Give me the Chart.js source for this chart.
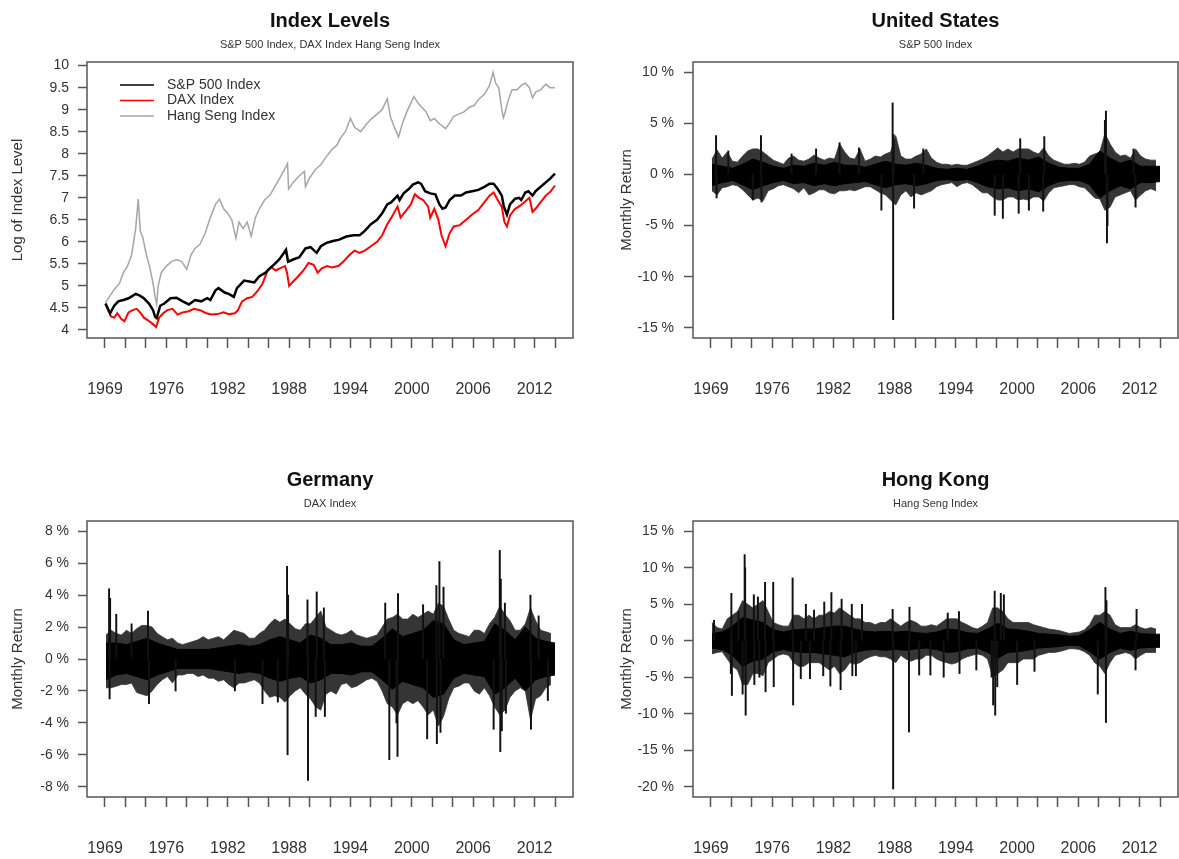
<!DOCTYPE html>
<html>
<head>
<meta charset="utf-8">
<title>Index Levels and Returns</title>
<script src="https://cdn.jsdelivr.net/npm/chart.js@4.4.1/dist/chart.umd.min.js"></script>
<style>
  html, body { margin: 0; padding: 0; background: #fff; }
  #page { position: relative; width: 1179px; height: 859px; overflow: hidden; background: #fff; }
  canvas { position: absolute; }
  #levelsChart { left: 0; top: 0; }
  #usChart { left: 590px; top: 0; }
  #deChart { left: 0; top: 459px; }
  #hkChart { left: 590px; top: 459px; }
</style>
</head>
<body>
<div id="page">
  <canvas id="levelsChart" width="590" height="400"></canvas>
  <canvas id="usChart" width="589" height="400"></canvas>
  <canvas id="deChart" width="590" height="400"></canvas>
  <canvas id="hkChart" width="589" height="400"></canvas>
</div>
<script>
const FONT = "'Liberation Sans', Arial, sans-serif";

// X axis: tick positions (decimal years) and their labels
const xTickYears = [1969.9, 1971.9, 1973.9, 1975.9, 1977.9, 1979.9, 1981.9, 1983.9, 1985.9, 1987.9, 1989.9, 1991.9,
                    1993.9, 1995.9, 1997.9, 1999.9, 2001.9, 2003.9, 2005.9, 2007.9, 2009.9, 2011.9, 2013.9];
const xTickLabels = ['1969', '', '', '1976', '', '', '1982', '', '', '1988', '', '', '1994', '', '', '2000', '', '',
                     '2006', '', '', '2012', ''];
const xRange = [1968.14, 2015.66];

// Log index levels
const spYears = [1969.95, 1970.4, 1970.8, 1971.2, 1971.7, 1972.2, 1972.9, 1973.3, 1973.7, 1974.2, 1974.6, 1974.8, 1974.95,
  1975.3, 1975.7, 1976.3, 1976.9, 1977.5, 1978.1, 1978.7, 1979.3, 1979.9, 1980.2, 1980.7, 1981.0, 1981.6, 1982.0, 1982.5,
  1982.8, 1983.5, 1984.0, 1984.5, 1985.0, 1985.6, 1986.0, 1986.5, 1987.0, 1987.6, 1987.8, 1988.3, 1988.9, 1989.5, 1990.0,
  1990.6, 1991.0, 1991.6, 1992.2, 1992.8, 1993.5, 1994.2, 1994.8, 1995.3, 1995.9, 1996.5, 1997.0, 1997.5, 1997.9, 1998.5,
  1998.7, 1999.1, 1999.6, 2000.0, 2000.5, 2000.8, 2001.2, 2001.7, 2002.2, 2002.6, 2002.9, 2003.2, 2003.6, 2004.1, 2004.7,
  2005.2, 2005.8, 2006.4, 2007.0, 2007.5, 2007.9, 2008.3, 2008.7, 2008.9, 2009.2, 2009.5, 2010.0, 2010.4, 2010.6, 2011.0,
  2011.3, 2011.7, 2012.0, 2012.5, 2013.0, 2013.5, 2013.9];
const spLog = [4.6, 4.38, 4.55, 4.65, 4.68, 4.72, 4.82, 4.78, 4.72, 4.6, 4.45, 4.3, 4.27,
  4.55, 4.6, 4.72, 4.73, 4.65, 4.58, 4.68, 4.65, 4.72, 4.68, 4.9, 4.95, 4.85, 4.82, 4.75,
  4.95, 5.12, 5.1, 5.08, 5.22, 5.3, 5.4, 5.5, 5.62, 5.82, 5.55, 5.6, 5.65, 5.85, 5.88,
  5.75, 5.9, 5.98, 6.02, 6.05, 6.12, 6.15, 6.15, 6.25, 6.4, 6.5, 6.65, 6.85, 6.9, 7.05,
  6.95, 7.1, 7.2, 7.3, 7.35, 7.32, 7.15, 7.1, 7.08, 6.85, 6.75, 6.78, 6.95, 7.05, 7.05,
  7.12, 7.15, 7.18, 7.25, 7.32, 7.32, 7.2, 7.05, 6.8, 6.62, 6.85, 6.98, 7.0, 6.95, 7.12,
  7.15, 7.05, 7.15, 7.25, 7.35, 7.45, 7.55];

const daxYears = [1969.95, 1970.2, 1970.5, 1970.8, 1971.1, 1971.5, 1971.8, 1972.2, 1972.6, 1973.0, 1973.4, 1973.7, 1974.1,
  1974.5, 1974.9, 1975.2, 1975.6, 1976.0, 1976.5, 1977.0, 1977.5, 1978.0, 1978.6, 1979.2, 1979.8, 1980.3, 1980.9, 1981.5,
  1982.0, 1982.6, 1982.9, 1983.3, 1983.8, 1984.3, 1984.8, 1985.3, 1985.8, 1986.2, 1986.6, 1987.0, 1987.5, 1987.7, 1987.9,
  1988.3, 1988.8, 1989.3, 1989.8, 1990.3, 1990.7, 1991.1, 1991.6, 1992.1, 1992.7, 1993.2, 1993.8, 1994.3, 1994.8, 1995.3,
  1995.9, 1996.5, 1997.0, 1997.5, 1997.9, 1998.5, 1998.8, 1999.3, 1999.8, 2000.2, 2000.6, 2001.0, 2001.5, 2001.7, 2002.1,
  2002.5, 2002.8, 2003.2, 2003.6, 2004.0, 2004.6, 2005.2, 2005.8, 2006.4, 2007.0, 2007.5, 2007.9, 2008.3, 2008.7, 2008.95,
  2009.2, 2009.5, 2010.0, 2010.5, 2011.0, 2011.4, 2011.7, 2012.0, 2012.5, 2013.0, 2013.5, 2013.9];
const daxLog = [4.6, 4.45, 4.3, 4.28, 4.38, 4.25, 4.2, 4.4, 4.45, 4.48, 4.38, 4.28, 4.22,
  4.15, 4.07, 4.28, 4.38, 4.45, 4.48, 4.35, 4.4, 4.42, 4.48, 4.45, 4.38, 4.35, 4.36, 4.4,
  4.36, 4.38, 4.45, 4.65, 4.72, 4.75, 4.88, 5.05, 5.35, 5.42, 5.35, 5.4, 5.45, 5.3, 5.0,
  5.1, 5.22, 5.35, 5.52, 5.48, 5.3, 5.4, 5.45, 5.42, 5.45, 5.55, 5.7, 5.8, 5.75, 5.8,
  5.9, 6.0, 6.15, 6.4, 6.55, 6.8, 6.55, 6.7, 6.85, 7.08, 7.0, 6.95, 6.8, 6.55, 6.75,
  6.5, 6.15, 5.9, 6.2, 6.35, 6.38, 6.5, 6.62, 6.72, 6.9, 7.05, 7.12, 6.95, 6.8, 6.45,
  6.35, 6.6, 6.75, 6.82, 6.92, 7.0, 6.68, 6.75, 6.9, 7.05, 7.15, 7.28];

const hsYears = [1969.95, 1970.4, 1970.8, 1971.3, 1971.7, 1972.1, 1972.5, 1972.9, 1973.15, 1973.35, 1973.6, 1973.9, 1974.3,
  1974.6, 1974.8, 1974.95, 1975.1, 1975.4, 1975.9, 1976.4, 1976.9, 1977.4, 1977.9, 1978.3, 1978.7, 1979.2, 1979.7, 1980.2,
  1980.7, 1981.1, 1981.5, 1981.9, 1982.3, 1982.7, 1983.0, 1983.4, 1983.8, 1984.2, 1984.6, 1985.0, 1985.5, 1986.0, 1986.5,
  1987.0, 1987.4, 1987.75, 1987.85, 1988.3, 1988.9, 1989.4, 1989.5, 1989.9, 1990.5, 1991.0, 1991.6, 1992.1, 1992.6, 1992.9,
  1993.4, 1993.9, 1994.3, 1994.9, 1995.4, 1995.9, 1996.5, 1997.0, 1997.5, 1997.8, 1998.1, 1998.6, 1999.0, 1999.4, 1999.8,
  2000.1, 2000.5, 2000.9, 2001.3, 2001.7, 2002.1, 2002.6, 2003.2, 2003.6, 2004.0, 2004.5, 2005.0, 2005.5, 2006.0, 2006.5,
  2007.0, 2007.5, 2007.85, 2008.1, 2008.4, 2008.7, 2008.85, 2009.0, 2009.3, 2009.7, 2010.2, 2010.6, 2011.0, 2011.4, 2011.7,
  2012.0, 2012.5, 2013.0, 2013.4, 2013.9];
const hsLog = [4.62, 4.78, 4.92, 5.05, 5.3, 5.45, 5.7, 6.3, 6.97, 6.25, 6.1, 5.75, 5.4,
  5.05, 4.75, 4.58, 5.0, 5.3, 5.45, 5.55, 5.6, 5.55, 5.38, 5.7, 5.85, 5.95, 6.2, 6.55,
  6.85, 6.97, 6.75, 6.65, 6.5, 6.08, 6.45, 6.3, 6.45, 6.13, 6.55, 6.75, 6.95, 7.05, 7.25,
  7.45, 7.62, 7.78, 7.2, 7.35, 7.5, 7.6, 7.25, 7.45, 7.65, 7.75, 7.95, 8.1, 8.2, 8.35,
  8.5, 8.8, 8.6, 8.5, 8.65, 8.78, 8.9, 9.0, 9.25, 8.85, 8.65, 8.38, 8.7, 8.95, 9.15,
  9.3, 9.15, 9.05, 8.95, 8.75, 8.8, 8.68, 8.57, 8.7, 8.85, 8.9, 8.95, 9.05, 9.1, 9.25,
  9.35, 9.55, 9.85, 9.6, 9.5, 9.0, 8.82, 8.92, 9.2, 9.45, 9.45, 9.55, 9.6, 9.5, 9.27,
  9.4, 9.45, 9.58, 9.5, 9.5];
const levelTicks = [4, 4.5, 5, 5.5, 6, 6.5, 7, 7.5, 8, 8.5, 9, 9.5, 10];

// Returns (%): dense core band per year, outer extent per half year, single large spikes
const bandYears = [1970, 1971, 1972, 1973, 1974, 1975, 1976, 1977, 1978, 1979, 1980, 1981, 1982, 1983, 1984, 1985, 1986,
  1987, 1988, 1989, 1990, 1991, 1992, 1993, 1994, 1995, 1996, 1997, 1998, 1999, 2000, 2001, 2002, 2003, 2004, 2005, 2006,
  2007, 2008, 2009, 2010, 2011, 2012, 2013, 2013.9];
const halfYears = Array.from({ length: 88 }, (_, i) => 1970 + i / 2);

const usCoreHi = [1.0, 0.8, 0.6, 1.0, 1.5, 1.2, 0.8, 0.6, 0.9, 0.8, 1.1, 0.9, 1.2, 0.9, 0.9, 0.7, 1.0, 1.3, 1.0, 0.9,
  1.1, 0.9, 0.6, 0.5, 0.6, 0.5, 0.8, 1.2, 1.4, 1.3, 1.6, 1.4, 1.7, 1.1, 0.7, 0.6, 0.6, 1.0, 2.3, 1.6, 1.1, 1.4, 0.8, 0.8, 0.8];
const usCoreLo = [-1.1, -0.8, -0.6, -1.0, -1.5, -1.1, -0.8, -0.6, -0.9, -0.8, -1.1, -0.9, -1.1, -0.9, -0.8, -0.7, -1.0, -1.3,
  -1.0, -0.9, -1.1, -0.9, -0.6, -0.5, -0.6, -0.5, -0.8, -1.2, -1.4, -1.3, -1.6, -1.4, -1.7, -1.1, -0.7, -0.6, -0.6, -1.0,
  -2.3, -1.6, -1.1, -1.4, -0.8, -0.8, -0.7];
const usOuterHi = [1.5, 2.4, 1.6, 2.2, 1.3, 1.2, 1.8, 2.3, 2.5, 2.5, 2.2, 1.8, 1.4, 1.2, 1.0, 1.6, 1.8, 1.4, 1.3, 1.5,
  1.9, 1.6, 1.4, 1.6, 1.5, 3.0, 2.2, 1.6, 1.5, 2.5, 1.3, 1.5, 1.8, 1.7, 2.0, 2.2, 3.8, 1.8, 1.5, 1.5,
  1.8, 2.0, 2.5, 1.6, 1.2, 1.0, 1.0, 0.9, 1.0, 0.9, 0.9, 1.1, 1.3, 1.5, 1.8, 2.2, 2.6, 2.2, 2.5, 2.2,
  2.5, 2.5, 2.5, 2.2, 2.0, 2.6, 1.8, 1.4, 1.2, 1.0, 1.0, 1.1, 1.0, 1.2, 1.8, 2.0, 2.2, 4.0, 3.0, 2.2,
  1.8, 1.9, 1.6, 2.5, 1.8, 1.5, 1.4, 1.4];
const usOuterLo = [-1.6, -2.0, -1.3, -1.2, -1.0, -1.1, -1.5, -2.0, -2.5, -2.3, -2.6, -1.6, -1.4, -1.1, -1.0, -1.2, -1.4, -1.8, -1.3, -2.0,
  -1.8, -1.5, -1.5, -1.8, -1.9, -1.6, -1.6, -1.5, -1.6, -1.4, -1.2, -1.2, -1.5, -1.8, -2.0, -2.5, -3.0, -2.0, -1.6, -2.2,
  -1.8, -2.0, -1.8, -1.6, -1.2, -1.0, -0.9, -0.8, -1.2, -0.9, -0.8, -1.0, -1.4, -1.8, -1.8, -2.2, -2.5, -2.5, -2.2, -2.2,
  -2.5, -2.4, -2.5, -2.2, -2.2, -2.6, -1.8, -1.3, -1.2, -1.1, -1.0, -1.0, -1.2, -1.3, -1.8, -2.3, -2.4, -3.5, -3.2, -2.2,
  -2.0, -1.8, -1.6, -2.5, -2.0, -1.6, -1.4, -1.6];
const usSpikes = [[1970.4, 3.8], [1970.45, -2.3], [1971.6, 2.3], [1974.0, -2.5], [1974.8, 3.8], [1974.85, -2.7], [1977.8, 2.0],
  [1980.2, 2.5], [1982.5, 3.1], [1984.4, 2.6], [1986.6, -3.5], [1987.7, 7.0], [1987.75, -14.2], [1987.8, 3.9], [1989.8, -3.3],
  [1990.7, 2.5], [1997.7, -4.0], [1998.5, -4.3], [2000.05, -3.8], [2000.2, 3.5], [2001.05, -3.5], [2002.45, -3.6],
  [2002.56, 3.7], [2008.5, 5.3], [2008.6, 6.2], [2008.7, -6.7], [2008.75, -5.0], [2011.3, 2.5], [2011.5, -3.2]];
const usTicks = [-15, -10, -5, 0, 5, 10];

const deCoreHi = [1.0, 1.0, 0.9, 1.1, 1.3, 1.0, 0.8, 0.6, 0.6, 0.6, 0.6, 0.7, 0.8, 0.9, 0.8, 0.9, 1.2, 1.4, 1.2, 1.0,
  1.5, 1.3, 0.9, 0.9, 1.0, 0.8, 0.8, 1.3, 1.9, 1.4, 1.6, 1.8, 2.4, 2.2, 1.2, 0.9, 1.0, 1.1, 2.2, 1.8, 1.2, 2.0, 1.3, 1.1, 1.0];
const deCoreLo = [-1.3, -1.0, -0.9, -1.1, -1.3, -1.0, -0.8, -0.6, -0.6, -0.6, -0.6, -0.7, -0.8, -0.9, -0.8, -0.9, -1.2, -1.4,
  -1.2, -1.1, -1.5, -1.3, -0.9, -0.9, -1.0, -0.8, -0.8, -1.3, -1.9, -1.4, -1.6, -1.8, -2.4, -2.2, -1.2, -0.9, -1.0, -1.1,
  -2.2, -1.8, -1.2, -2.0, -1.3, -1.1, -1.0];
const deOuterHi = [1.5, 1.8, 1.6, 1.5, 1.8, 1.6, 1.9, 2.1, 2.1, 2.0, 1.6, 1.4, 1.2, 1.3, 1.0, 0.9, 1.0, 1.1, 1.2, 1.4,
  1.2, 1.3, 1.4, 1.2, 1.5, 1.8, 1.7, 1.6, 1.3, 1.3, 1.6, 1.8, 2.2, 2.5, 2.3, 2.5, 2.2, 1.9, 1.8, 2.2,
  2.2, 2.6, 3.0, 2.0, 1.8, 1.6, 1.5, 1.6, 1.8, 1.5, 1.4, 1.3, 1.4, 1.5, 2.0, 2.5, 2.6, 2.8, 2.5, 2.5,
  2.8, 2.6, 2.8, 3.0, 2.8, 3.5, 3.3, 2.5, 1.8, 1.6, 1.5, 1.4, 1.8, 1.8, 1.6, 2.2, 2.6, 3.3, 2.8, 2.4,
  1.8, 1.8, 2.2, 3.2, 2.4, 1.8, 1.7, 1.6];
const deOuterLo = [-1.8, -1.8, -1.7, -1.6, -1.6, -1.5, -2.1, -2.2, -2.3, -2.0, -1.6, -1.3, -1.1, -1.5, -1.0, -1.0, -0.9, -0.9, -1.1, -1.0,
  -1.2, -1.2, -1.4, -1.3, -1.6, -1.8, -1.5, -1.5, -1.4, -1.3, -1.5, -2.0, -2.4, -2.3, -2.4, -2.7, -2.3, -2.0, -1.8, -2.2,
  -2.5, -3.0, -3.2, -2.2, -2.0, -2.2, -1.6, -1.5, -1.8, -1.7, -1.5, -1.3, -1.2, -1.4, -2.0, -2.8, -3.0, -3.5, -2.8, -2.6,
  -2.8, -2.6, -3.0, -3.5, -3.2, -4.2, -3.6, -2.5, -1.8, -1.7, -1.5, -1.5, -2.0, -2.2, -1.8, -2.3, -3.0, -3.5, -3.2, -2.4,
  -2.0, -1.8, -2.0, -3.8, -2.5, -2.3, -1.8, -1.6];
const deSpikes = [[1970.3, 4.4], [1970.4, 3.8], [1970.35, -2.5], [1971.0, 2.8], [1972.5, 2.2], [1974.1, 3.0], [1974.2, -2.8],
  [1976.8, -2.0], [1982.6, -2.0], [1985.3, -2.8], [1986.8, -2.7], [1987.7, 5.8], [1987.75, -6.0], [1987.8, 4.0],
  [1989.75, -7.6], [1989.7, 3.7], [1990.5, -3.6], [1990.6, 4.2], [1991.3, 3.2], [1991.4, -3.6], [1997.3, 3.5], [1997.7, -6.3],
  [1998.4, -4.0], [1998.5, -6.1], [1998.55, 4.1], [2001.0, 3.4], [2001.4, -5.0], [2002.3, 4.6], [2002.35, -5.3],
  [2002.6, 6.1], [2002.7, -4.6], [2003.0, 4.5], [2007.9, -4.4], [2008.5, 6.8], [2008.55, -5.8], [2008.6, 5.0],
  [2008.7, -4.5], [2009.0, 3.5], [2009.1, -3.4], [2011.5, 4.0], [2011.55, -4.4], [2012.3, 2.7], [2013.2, -2.6]];
const deTicks = [-8, -6, -4, -2, 0, 2, 4, 6, 8];

const hkCoreHi = [1.0, 1.2, 2.0, 3.2, 2.8, 2.5, 1.5, 1.2, 1.5, 1.6, 1.6, 1.8, 2.0, 2.0, 1.6, 1.3, 1.2, 1.3, 1.2, 1.3,
  1.1, 1.0, 1.2, 1.6, 1.5, 1.1, 1.0, 1.6, 2.4, 1.6, 1.5, 1.3, 1.0, 0.9, 0.8, 0.6, 0.7, 1.5, 2.5, 1.6, 1.0, 1.3, 1.0, 0.9, 0.9];
const hkCoreLo = [-1.0, -1.2, -2.0, -3.5, -2.8, -2.5, -1.5, -1.2, -1.5, -1.6, -1.6, -1.8, -2.0, -2.2, -1.6, -1.3, -1.2, -1.3,
  -1.2, -1.3, -1.1, -1.0, -1.2, -1.6, -1.5, -1.1, -1.0, -1.6, -2.4, -1.6, -1.5, -1.3, -1.0, -0.9, -0.8, -0.6, -0.7, -1.5,
  -2.5, -1.6, -1.0, -1.3, -1.0, -0.9, -0.9];
const hkOuterHi = [2.5, 1.8, 1.6, 3.0, 3.5, 4.0, 5.5, 5.0, 4.5, 5.0, 5.5, 4.0, 2.5, 2.2, 2.0, 2.0, 3.5, 3.5, 3.0, 3.5,
  3.0, 3.5, 3.5, 4.0, 3.8, 4.5, 4.0, 3.5, 3.0, 3.0, 2.5, 2.5, 2.2, 2.5, 2.5, 3.0, 2.5, 2.0, 2.5, 2.8,
  2.5, 2.0, 2.0, 2.2, 2.0, 2.5, 3.0, 3.0, 3.0, 2.5, 2.2, 1.8, 1.6, 2.0, 2.5, 4.5, 4.5, 4.0, 3.0, 2.5,
  2.5, 2.5, 2.5, 2.2, 2.0, 1.8, 1.6, 1.5, 1.4, 1.2, 1.0, 1.1, 1.2, 1.5, 2.2, 3.5, 3.5, 4.0, 3.5, 2.2,
  1.8, 1.8, 1.8, 2.2, 1.8, 1.6, 1.8, 1.6];
const hkOuterLo = [-1.8, -1.6, -1.5, -2.5, -3.5, -4.0, -6.0, -6.0, -4.5, -4.5, -4.8, -3.0, -2.5, -2.0, -1.8, -2.0, -3.0, -3.5, -3.5, -3.0,
  -3.0, -3.0, -3.5, -4.0, -3.5, -4.5, -4.0, -3.0, -3.2, -3.0, -2.5, -2.2, -2.0, -2.2, -2.2, -2.5, -3.0, -2.0, -2.5, -2.8,
  -2.5, -2.5, -2.0, -2.0, -2.5, -2.8, -3.0, -3.2, -3.0, -2.5, -2.2, -2.0, -1.8, -2.0, -2.5, -5.0, -4.5, -4.0, -3.0, -3.0,
  -3.0, -2.5, -2.5, -2.5, -2.0, -1.8, -1.6, -1.6, -1.5, -1.3, -1.1, -1.1, -1.2, -1.5, -2.0, -3.0, -3.5, -4.5, -3.0, -2.0,
  -1.8, -1.6, -1.8, -2.5, -2.0, -1.6, -1.6, -1.6];
const hkSpikes = [[1970.2, 2.8], [1971.9, 6.5], [1971.95, -7.5], [1971.85, -4.5], [1972.6, 4.0], [1973.0, -7.3], [1973.2, 11.8],
  [1973.25, 10.0], [1973.3, -10.2], [1974.1, 6.3], [1974.15, -6.0], [1974.5, 6.0], [1974.65, -5.0], [1975.2, 8.0],
  [1975.25, -7.0], [1976.0, 8.0], [1976.05, -6.3], [1977.9, 8.6], [1977.95, -8.8], [1978.7, -5.2], [1979.2, 5.0],
  [1979.6, -5.2], [1980.0, 4.2], [1980.9, -4.8], [1981.0, 5.3], [1981.6, -6.2], [1981.7, 6.6], [1982.6, -6.7], [1982.7, 5.7],
  [1983.7, 5.0], [1983.75, -4.8], [1984.1, -4.8], [1984.7, 5.0], [1987.7, 4.3], [1987.75, -20.3], [1989.3, -12.5],
  [1989.35, 4.6], [1990.3, -4.7], [1991.4, -4.7], [1992.7, -5.0], [1993.1, 3.8], [1994.2, 4.0], [1994.25, -4.5],
  [1995.9, -4.0], [1997.4, -5.0], [1997.55, -8.8], [1997.7, 6.8], [1997.75, -10.2], [1997.95, -6.3], [1998.3, 6.5],
  [1998.6, 6.3], [1999.9, -6.0], [2001.6, -4.2], [2007.8, -7.3], [2008.55, 7.3], [2008.6, -11.2], [2008.65, 5.5],
  [2011.5, -4.0], [2011.6, 4.3]];
const hkTicks = [-20, -15, -10, -5, 0, 5, 10, 15];

// Box around the plot region plus main title and subtitle, centred on the box
const panelFrame = {
    id: 'panelFrame',
    afterDraw(chart, args, opts) {
        const { ctx, chartArea: a } = chart;
        ctx.save();
        ctx.strokeStyle = '#555';
        ctx.lineWidth = 1.5;
        ctx.strokeRect(a.left, a.top, a.right - a.left, a.bottom - a.top);
        const cx = (a.left + a.right) / 2;
        ctx.textAlign = 'center';
        ctx.textBaseline = 'middle';
        ctx.fillStyle = '#111';
        ctx.font = 'bold 20px ' + FONT;
        ctx.fillText(opts.main, cx, 21);
        ctx.fillStyle = '#333';
        ctx.font = '11px ' + FONT;
        ctx.fillText(opts.sub, cx, 45);
        ctx.restore();
    }
};

// Legend drawn inside the top-left corner of the levels plot
const levelsLegend = {
    id: 'levelsLegend',
    afterDraw(chart) {
        const { ctx, chartArea: a } = chart;
        ctx.save();
        ctx.font = '14px ' + FONT;
        ctx.textBaseline = 'middle';
        chart.data.datasets.slice().reverse().forEach((ds, i) => {
            const y = a.top + 23 + i * 15.5;
            ctx.strokeStyle = ds.borderColor;
            ctx.lineWidth = 1.5;
            ctx.beginPath();
            ctx.moveTo(a.left + 33, y);
            ctx.lineTo(a.left + 67, y);
            ctx.stroke();
            ctx.fillStyle = '#333';
            ctx.fillText(ds.label, a.left + 80, y);
        });
        ctx.restore();
    }
};

function panelOptions(cfg) {
    return {
        responsive: false,
        animation: false,
        devicePixelRatio: 1,
        layout: { padding: { top: 62, right: cfg.padRight, left: 0, bottom: 0 } },
        plugins: {
            legend: { display: false },
            tooltip: { enabled: false },
            panelFrame: { main: cfg.main, sub: cfg.sub }
        },
        scales: {
            x: {
                type: 'linear',
                min: xRange[0],
                max: xRange[1],
                offset: false,
                border: { display: false },
                grid: { offset: false, drawOnChartArea: false, tickLength: 10, tickColor: '#555', tickWidth: 1.5 },
                ticks: {
                    // tall line height pushes the year labels well below the tick marks
                    autoSkip: false, maxRotation: 0, padding: 10, color: '#333',
                    font: { family: FONT, size: 16, lineHeight: 4 },
                    callback: (v, i) => xTickLabels[i]
                },
                afterBuildTicks: s => { s.ticks = xTickYears.map(v => ({ value: v })); },
                afterFit: s => { s.height = 62; }
            },
            y: {
                type: 'linear',
                min: cfg.yRange[0],
                max: cfg.yRange[1],
                border: { display: false },
                grid: { drawOnChartArea: false, tickLength: 9, tickColor: '#555', tickWidth: 1.5 },
                ticks: {
                    padding: cfg.tickPad, color: '#333',
                    font: { family: FONT, size: 14 },
                    callback: cfg.fmt
                },
                afterBuildTicks: s => { s.ticks = cfg.yTicks.map(v => ({ value: v })); },
                afterFit: s => { s.width = cfg.axisWidth; },
                title: {
                    display: true, text: cfg.yTitle, color: '#333',
                    font: { family: FONT, size: 15 },
                    padding: { top: cfg.titlePad, bottom: 0 }
                }
            }
        }
    };
}

function xy(xs, ys) {
    return xs.map((x, i) => ({ x: x, y: ys[i] }));
}

// Lower 'order' is drawn later, so the spikes end up on top of the outer envelope
function returnDatasets(coreHi, coreLo, outerHi, outerLo, spikes) {
    return [
        {
            type: 'line', order: 5, data: xy(halfYears, outerHi), borderColor: '#333', borderWidth: 0.8,
            backgroundColor: '#353535', fill: '+1', pointRadius: 0, tension: 0
        },
        {
            type: 'line', order: 4, data: xy(halfYears, outerLo), borderColor: '#333', borderWidth: 0.8,
            fill: false, pointRadius: 0, tension: 0
        },
        {
            type: 'line', order: 3, data: xy(bandYears, coreHi), borderColor: '#000', borderWidth: 1,
            backgroundColor: '#000', fill: '+1', pointRadius: 0, tension: 0
        },
        {
            type: 'line', order: 2, data: xy(bandYears, coreLo), borderColor: '#000', borderWidth: 1,
            fill: false, pointRadius: 0, tension: 0
        },
        {
            type: 'bar', order: 1, data: spikes.map(s => ({ x: s[0], y: [0, s[1]] })),
            backgroundColor: '#111', borderWidth: 0, barThickness: 1.3, grouped: false
        }
    ];
}

function makeReturnChart(id, cfg, coreHi, coreLo, outerHi, outerLo, spikes) {
    return new Chart(document.getElementById(id), {
        type: 'line',
        data: { datasets: returnDatasets(coreHi, coreLo, outerHi, outerLo, spikes) },
        options: panelOptions(cfg),
        plugins: [panelFrame]
    });
}

const pctFmt = v => v + ' %';

// Index levels panel
new Chart(document.getElementById('levelsChart'), {
    type: 'line',
    data: {
        datasets: [
            { label: 'Hang Seng Index', data: xy(hsYears, hsLog), borderColor: '#a6a6a6', borderWidth: 1.5, pointRadius: 0, tension: 0, order: 3 },
            { label: 'DAX Index', data: xy(daxYears, daxLog), borderColor: '#ff0000', borderWidth: 2, pointRadius: 0, tension: 0, order: 2 },
            { label: 'S&P 500 Index', data: xy(spYears, spLog), borderColor: '#000000', borderWidth: 2.5, pointRadius: 0, tension: 0, order: 1 }
        ]
    },
    options: panelOptions({
        main: 'Index Levels', sub: 'S&P 500 Index, DAX Index Hang Seng Index',
        padRight: 17, axisWidth: 87, tickPad: 9, titlePad: 9,
        yRange: [3.818, 10.082], yTicks: levelTicks, fmt: v => String(v), yTitle: 'Log of Index Level'
    }),
    plugins: [panelFrame, levelsLegend]
});

makeReturnChart('usChart', {
    main: 'United States', sub: 'S&P 500 Index',
    padRight: 1, axisWidth: 103, tickPad: 10, titlePad: 28,
    yRange: [-16, 11], yTicks: usTicks, fmt: pctFmt, yTitle: 'Monthly Return'
}, usCoreHi, usCoreLo, usOuterHi, usOuterLo, usSpikes);

makeReturnChart('deChart', {
    main: 'Germany', sub: 'DAX Index',
    padRight: 17, axisWidth: 87, tickPad: 9, titlePad: 9,
    yRange: [-8.64, 8.64], yTicks: deTicks, fmt: pctFmt, yTitle: 'Monthly Return'
}, deCoreHi, deCoreLo, deOuterHi, deOuterLo, deSpikes);

makeReturnChart('hkChart', {
    main: 'Hong Kong', sub: 'Hang Seng Index',
    padRight: 1, axisWidth: 103, tickPad: 10, titlePad: 28,
    yRange: [-21.4, 16.4], yTicks: hkTicks, fmt: pctFmt, yTitle: 'Monthly Return'
}, hkCoreHi, hkCoreLo, hkOuterHi, hkOuterLo, hkSpikes);
</script>
</body>
</html>
